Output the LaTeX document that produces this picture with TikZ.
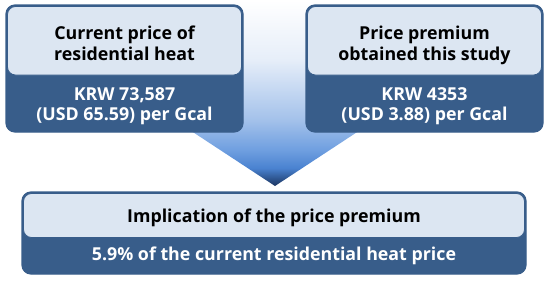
\documentclass[tikz,border=0pt]{standalone}
\usepackage{fontspec}
\setmainfont{Open Sans}
\definecolor{boxdark}{RGB}{56,93,138}
\definecolor{boxlight}{RGB}{220,230,242}
\definecolor{arA}{RGB}{28,53,96}
\definecolor{arB}{RGB}{52,96,159}
\definecolor{arC}{RGB}{74,130,208}
\definecolor{arD}{RGB}{111,159,224}
\definecolor{arE}{RGB}{163,193,234}
\definecolor{arF}{RGB}{230,238,249}
\pgfdeclareverticalshading{arrowshade}{100bp}{color(0bp)=(arA); color(25bp)=(arA); color(27.7bp)=(arB); color(29.8bp)=(arC); color(34.7bp)=(arD); color(42.7bp)=(arE); color(58.9bp)=(arF); color(75bp)=(white); color(100bp)=(white)}
\tikzset{
  outerbox/.style={draw=boxdark, fill=boxdark, line width=1.2pt, rounded corners=9pt},
  innerbox/.style={draw=boxdark, fill=boxlight, line width=0.8pt, rounded corners=8pt},
  toptext/.style={anchor=base, inner sep=0pt, text=black, font=\bfseries\fontsize{17.8}{21}\selectfont},
  bottext/.style={anchor=base, inner sep=0pt, text=white, font=\bfseries\fontsize{17.8}{21}\selectfont},
}
\begin{document}
\begin{tikzpicture}[x=1pt,y=-1pt]
\useasboundingbox (0,0) rectangle (550,281);
% arrow
\path[shading=arrowshade] (200,0) -- (350,0) -- (350,100) -- (406,100) -- (275,186) -- (144,100) -- (200,100) -- cycle;
% left box
\draw[outerbox] (6,5) rectangle (243,132);
\draw[innerbox] (7.5,6.5) rectangle (241.5,75);
\node[toptext] (l1) at (124.5,39.3) {Current price of};
\node[toptext] (l2) at (124.5,60) {residential heat};
\node[bottext] (l3) at (124.5,100) {KRW 73,587};
\node[bottext] (l4) at (124.5,120.5) {(USD 65.59) per Gcal};
% right box
\draw[outerbox] (306,5) rectangle (543,132);
\draw[innerbox] (307.5,6.5) rectangle (541.5,75);
\node[toptext] (r1) at (424.5,39.3) {Price premium};
\node[toptext] (r2) at (424.5,60) {obtained this study};
\node[bottext] (r3) at (424.5,100) {KRW 4353};
\node[bottext] (r4) at (424.5,120.5) {(USD 3.88) per Gcal};
% bottom box
\draw[outerbox] (22,192) rectangle (526,274);
\draw[innerbox] (23.5,193.5) rectangle (524.5,237.5);
\node[toptext] (b1) at (274,222) {Implication of the price premium};
\node[bottext] (b2) at (274,260) {5.9\% of the current residential heat price};
\end{tikzpicture}
\end{document}
